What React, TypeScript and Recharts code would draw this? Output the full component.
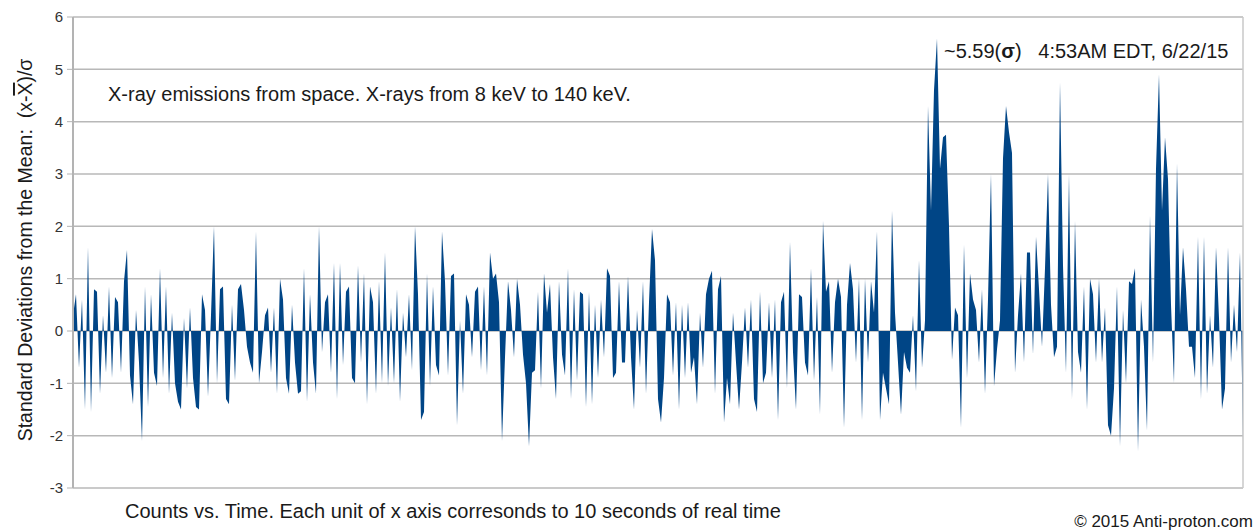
import { AreaChart, Area, XAxis, YAxis, CartesianGrid, ReferenceLine } from 'recharts';

// deviations from the mean (sigma) in six slices, left to right
const seg1 = [0.3, 0.7, -0.7, 0.6, -1.5, 1.6, -1.55, 0.8, 0.75, -1.2, 0.3, -0.8, 0.85, -0.9, 0.65, 0.55, -0.8, 0.95, 1.55, -0.85,
  -1.4, 0.4, -0.6, -2.1, 0.85, -1.45, 0.7, -0.8, -1.05, 1.2, -0.9, 0.85, -1.2, 0.35, -1.0, -1.35, -1.5, 0.25, -1.1, 0.45,
  -0.9, -1.45, -1.5, 0.7, 0.4, -1.25, 0.3, 2.0, -1.0, 0.8, 0.85, -1.3, -1.4, 0.5, -0.95, 0.8, 0.9, 0.4, -0.3, -0.6,
  -0.8, 1.9, -1.0, -0.4, 0.3];
const seg2 = [0.45, -0.8, 0.45, -1.2, 1.0, 0.6, -0.9, -1.2, 0.5, -0.6, -1.2, -1.15, 1.2, -1.35, 0.7, -0.6, -1.2, 2.0, -0.4, 0.55,
  0.7, -0.8, 1.3, -1.3, 1.3, -0.65, 0.75, 0.85, -0.9, -1.0, 1.25, -0.6, 1.1, -1.4, 0.85, 0.55, -1.2, 0.95, -1.0, 1.5,
  -1.05, 0.45, -1.0, 0.8, -1.35, 0.35, -0.5, 0.7, -0.75, 2.0, 0.7, -1.7, -1.55, 1.1, -1.05, 0.85, -0.65, -0.85, 1.9, 0.95,
  -0.85, 1.05, 1.1, -1.8, 0.2];
const seg3 = [-1.2, 0.7, 0.5, -0.5, 0.75, 0.85, -0.75, 0.85, -0.85, 1.5, 1.0, 1.1, 0.55, -2.1, -0.5, 0.95, 0.4, -0.5, 1.0, 0.5,
  -0.45, -1.0, -2.2, -0.8, -0.75, 0.75, -1.1, 1.1, 0.35, 0.9, -0.5, -1.3, 0.95, -0.45, -0.85, 1.2, -1.3, 0.8, -0.95, 0.75,
  0.7, -1.45, 0.75, -1.4, 0.5, -0.9, 0.6, -0.5, 1.2, 1.05, -0.9, -0.8, 0.95, -0.6, -0.6, 1.05, -0.5, -1.5, 0.4, -0.7,
  0.95, -1.2, 0.55, 1.95, 1.35];
const seg4 = [-1.3, -1.75, -0.9, 0.7, 0.55, -0.85, 0.55, -1.5, 0.5, -0.9, 0.55, -0.8, -0.5, -1.4, 0.35, -0.7, 0.7, 1.0, 1.15, -1.2,
  0.8, 1.05, -1.75, -0.9, -1.4, 0.35, -0.6, -1.5, -0.6, 0.45, -0.7, 0.6, -1.3, -1.55, 0.75, -1.0, -0.8, 0.55, -0.9, 0.6,
  -1.7, 0.55, 0.75, -1.1, 1.7, -0.4, -1.5, 0.7, 0.65, -0.6, -0.85, 1.2, -0.95, 0.65, -1.6, 2.1, 0.75, 0.95, -0.8, 0.55,
  1.0, 0.65, -1.85, 0.5, 1.3];
const seg5 = [0.8, -0.6, 1.0, -1.7, 1.0, -0.6, 0.95, 0.35, 1.9, -1.7, -0.8, -1.1, -1.4, 2.3, 0.35, -0.6, -1.6, -0.4, -0.7, -0.8,
  0.3, -1.15, 1.35, -0.7, 0.2, 4.3, 2.3, 4.6, 5.59, 3.1, 3.7, 3.75, 2.0, -0.55, 0.45, 0.3, -1.85, 1.65, -0.9, 1.1,
  0.6, 0.4, -0.6, 0.8, -1.2, 0.6, 3.0, -1.05, -0.35, 0.2, 3.3, 4.3, 3.8, 3.4, -0.8, 0.3, 1.1, -0.6, 1.5, 1.5,
  -0.45, 1.8, 0.8, -0.3, 1.2];
const seg6 = [3.0, 0.5, -0.5, -0.3, 4.75, 1.25, -0.8, 3.0, -1.3, 2.1, -0.4, -0.8, 0.85, -1.5, 1.0, 0.7, -0.6, 1.0, -0.6, 0.45,
  -1.8, -2.0, -1.1, 0.85, -2.2, 0.4, -1.0, 0.95, 0.9, 1.2, -2.3, 0.6, -0.3, -1.9, 2.2, -0.6, 3.1, 4.9, 2.3, 3.7,
  2.9, 0.5, -1.0, 3.2, 0.3, 1.6, 0.8, -0.3, -0.3, -0.9, 1.8, -1.3, 1.8, -1.2, 0.3, -0.7, 1.6, 0.25, -1.5, -1.1,
  1.6, -0.6, 0.5, -0.4, 1.5, -2.1];

const yTicks = [-3, -2, -1, 0, 1, 2, 3, 4, 5, 6];

const values = [...seg1, ...seg2, ...seg3, ...seg4, ...seg5, ...seg6];
const data = values.map((v, i) => ({ t: i, sigma: v }));

const font = '"Liberation Sans", Arial, sans-serif';

export default function App() {
  return (
    <div style={{ position: 'absolute', left: 0, top: 0, width: 1256, height: 531, background: '#fff', fontFamily: font }}>
      <AreaChart width={1256} height={531} data={data} margin={{ top: 17, right: 13, bottom: 43, left: 8 }}>
        <CartesianGrid vertical={false} stroke="#b8b8b8" strokeWidth={1.5} />
        <XAxis dataKey="t" hide />
        <YAxis
          domain={[-3, 6]}
          ticks={yTicks}
          interval={0}
          width={65}
          tickSize={6}
          tickMargin={4}
          axisLine={{ stroke: '#b3b3b3', strokeWidth: 2 }}
          tickLine={{ stroke: '#b3b3b3' }}
          tick={{ fill: '#333', fontSize: 15, fontFamily: font }}
        />
        <ReferenceLine x={data.length - 1} stroke="#c8c8c8" strokeWidth={1.5} />
        <Area
          type="linear"
          dataKey="sigma"
          stroke="none"
          fill="#004586"
          fillOpacity={1}
          isAnimationActive={false}
        />
      </AreaChart>
      <svg
        width={1256}
        height={531}
        style={{ position: 'absolute', left: 0, top: 0, pointerEvents: 'none' }}
        fontFamily={font}
        fill="#1a1a1a"
      >
        <text
          x={25}
          y={250}
          transform="rotate(-90 25 250)"
          textAnchor="middle"
          dominantBaseline="central"
          fontSize={19.5}
          style={{ whiteSpace: 'pre' }}
        >
          {'Standard Deviations from the Mean:  (x-'}
          <tspan style={{ textDecoration: 'overline' }}>X</tspan>
          {')/σ'}
        </text>
        <text x={108} y={101} fontSize={20}>
          X-ray emissions from space. X-rays from 8 keV to 140 keV.
        </text>
        <text x={944} y={58} fontSize={20} style={{ whiteSpace: 'pre' }}>
          {'~5.59('}
          <tspan fontWeight="bold">σ</tspan>
          {')   4:53AM EDT, 6/22/15'}
        </text>
        <text x={125} y={518} fontSize={20}>
          Counts vs. Time. Each unit of x axis corresonds to 10 seconds of real time
        </text>
        <text x={1253} y={527} fontSize={17} textAnchor="end">
          © 2015 Anti-proton.com
        </text>
      </svg>
    </div>
  );
}
